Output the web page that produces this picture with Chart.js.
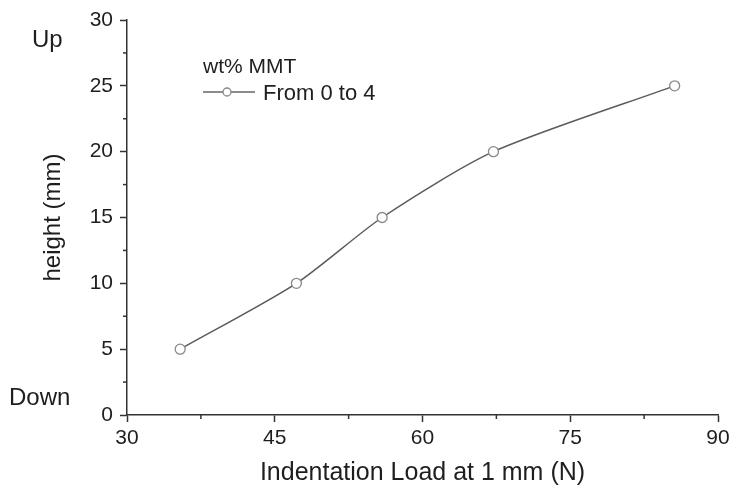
<!DOCTYPE html>
<html>
<head>
<meta charset="utf-8">
<script src="https://cdn.jsdelivr.net/npm/chart.js@4.4.0/dist/chart.umd.min.js"></script>
<style>
  html, body { margin: 0; padding: 0; background: #fff; }
  #wrap { width: 737px; height: 495px; }
</style>
</head>
<body>
<div id="wrap"><canvas id="c" width="737" height="495"></canvas></div>
<script>
// data
const loadN = [35.4, 47.2, 55.9, 67.2, 85.6];
const heightMm = [5, 10, 15, 20, 25];
const xTicks = [30, 45, 60, 75, 90];
const yTicks = [0, 5, 10, 15, 20, 25, 30];
const seriesLabel = 'From 0 to 4';
const legendTitle = 'wt% MMT';

const FONT = '"Liberation Sans", Arial, sans-serif';
const INK = '#1e1e1e';
const AXIS = '#333';

// minor ticks, labels for Up / Down and the inline legend
const extras = {
  id: 'extras',
  afterDraw(chart) {
    const c = chart.ctx;
    const xs = chart.scales.x, ys = chart.scales.y;
    c.save();
    c.strokeStyle = AXIS;
    c.lineWidth = 1.5;
    // minor ticks half way between majors
    for (let i = 0; i < xTicks.length - 1; i++) {
      const px = xs.getPixelForValue((xTicks[i] + xTicks[i + 1]) / 2);
      c.beginPath(); c.moveTo(px, ys.bottom); c.lineTo(px, ys.bottom + 4); c.stroke();
    }
    for (let i = 0; i < yTicks.length - 1; i++) {
      const py = ys.getPixelForValue((yTicks[i] + yTicks[i + 1]) / 2);
      c.beginPath(); c.moveTo(xs.left, py); c.lineTo(xs.left - 4, py); c.stroke();
    }

    c.fillStyle = INK;
    c.font = '24px ' + FONT;
    c.textBaseline = 'alphabetic';
    c.textAlign = 'left';
    c.fillText('Up', 32, 47);
    c.fillText('Down', 9, 405);

    // legend
    c.font = '21px ' + FONT;
    c.fillText(legendTitle, 203, 73);
    c.strokeStyle = '#666';
    c.lineWidth = 1.3;
    c.beginPath(); c.moveTo(203, 92); c.lineTo(255, 92); c.stroke();
    c.beginPath(); c.arc(227, 92, 4, 0, Math.PI * 2);
    c.fillStyle = '#fff'; c.fill();
    c.strokeStyle = '#888'; c.stroke();
    c.fillStyle = INK;
    c.font = '22px ' + FONT;
    c.fillText(seriesLabel, 263, 100);
    c.restore();
  }
};

const ctx = document.getElementById('c').getContext('2d');
new Chart(ctx, {
  type: 'line',
  data: {
    datasets: [{
      label: seriesLabel,
      data: loadN.map((x, i) => ({ x: x, y: heightMm[i] })),
      borderColor: '#5a5a5a',
      borderWidth: 1.5,
      tension: 0.25,
      pointRadius: 5,
      pointBorderWidth: 1.3,
      pointBorderColor: '#888',
      pointBackgroundColor: '#fff'
    }]
  },
  options: {
    responsive: false,
    animation: false,
    layout: { padding: { left: 35, right: 19, top: 20, bottom: 3 } },
    plugins: { legend: { display: false }, tooltip: { enabled: false } },
    scales: {
      x: {
        type: 'linear',
        min: 30, max: 90,
        afterBuildTicks: (s) => { s.ticks = xTicks.map(v => ({ value: v })); },
        afterFit: (s) => { s.height = 77; },
        border: { color: AXIS, width: 1.5 },
        grid: { drawOnChartArea: false, tickLength: 7, tickColor: AXIS, tickWidth: 1.5 },
        ticks: { color: INK, font: { family: FONT, size: 21 }, padding: 4, maxRotation: 0 },
        title: { display: true, text: 'Indentation Load at 1 mm (N)', color: INK, font: { family: FONT, size: 25 }, padding: 4 }
      },
      y: {
        min: 0, max: 30,
        afterBuildTicks: (s) => { s.ticks = yTicks.map(v => ({ value: v })); },
        afterFit: (s) => { s.width = 92; },
        border: { color: AXIS, width: 1.5 },
        grid: { drawOnChartArea: false, tickLength: 7, tickColor: AXIS, tickWidth: 1.5 },
        ticks: { color: INK, font: { family: FONT, size: 21 }, padding: 7 },
        title: { display: true, text: 'height (mm)', color: INK, font: { family: FONT, size: 24 }, padding: 4 }
      }
    }
  },
  plugins: [extras]
});
</script>
</body>
</html>
